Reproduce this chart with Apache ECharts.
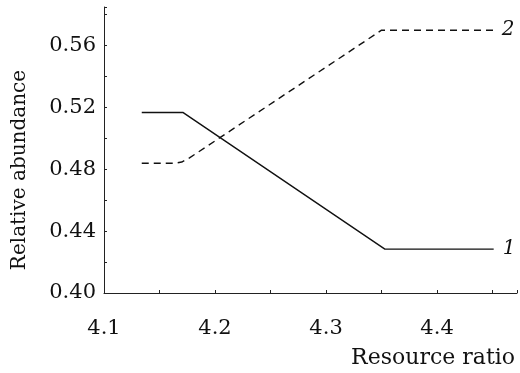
<!DOCTYPE html>
<html><head><meta charset="utf-8">
<script src="https://cdn.jsdelivr.net/npm/echarts@6/dist/echarts.min.js"></script>
<style>html,body{margin:0;padding:0;background:#fff}#c{width:520px;height:373px}</style>
</head><body><div id="c"></div>
<script>
var curve1X = [4.134, 4.171, 4.353, 4.451];
var curve1Y = [0.5168, 0.5168, 0.4284, 0.4284];
var curve2X = [4.134, 4.163, 4.170, 4.177, 4.350, 4.452];
var curve2Y = [0.4839, 0.4839, 0.4847, 0.4874, 0.5700, 0.5700];
var curveNames = ['1', '2'];
var yTickLabels = [0.40, 0.44, 0.48, 0.52, 0.56];
var xTickLabels = [4.1, 4.2, 4.3, 4.4];

function pairs(xs, ys){ return xs.map(function(x,i){return [x, ys[i]];}); }
function inList(v, list){ return list.some(function(t){return Math.abs(t-v)<1e-6;}); }

var font = 'DejaVu Serif';
var chart = echarts.init(document.getElementById('c'));
chart.setOption({
  animation:false,
  textStyle:{fontFamily:font},
  grid:{left:104, right:3, top:7, bottom:80, containLabel:false},
  xAxis:{type:'value', min:4.1, max:4.472, interval:0.05,
    name:'Resource ratio', nameLocation:'end',
    nameTextStyle:{fontFamily:font, fontSize:22, color:'#111', align:'right', verticalAlign:'top', padding:[54,0,0,0]},
    nameGap:-2,
    axisLine:{lineStyle:{color:'#222', width:1}},
    axisTick:{show:true, inside:true, length:3, lineStyle:{color:'#222'}},
    splitLine:{show:false},
    axisLabel:{fontFamily:font, fontSize:21, color:'#111', margin:25,
      formatter:function(v){ return inList(v, xTickLabels) ? v.toFixed(1) : ''; }}
  },
  yAxis:{type:'value', min:0.40, max:0.585, interval:0.02,
    name:'Relative abundance', nameLocation:'middle', nameGap:74, nameRotate:90,
    nameTextStyle:{fontFamily:font, fontSize:20, color:'#111', padding:[0,40,0,0]},
    axisLine:{show:true, lineStyle:{color:'#222', width:1}},
    axisTick:{show:true, inside:true, length:3, lineStyle:{color:'#222'}},
    splitLine:{show:false},
    axisLabel:{fontFamily:font, fontSize:21, color:'#111', margin:8,
      formatter:function(v){ return inList(v, yTickLabels) ? v.toFixed(2) : ''; }}
  },
  series:[
    {type:'line', name:curveNames[0], data:pairs(curve1X, curve1Y), symbol:'none',
      lineStyle:{color:'#111', width:1.4, type:'solid'},
      endLabel:{show:true, formatter:curveNames[0], fontFamily:font, fontStyle:'italic', fontSize:20, color:'#111', distance:9}},
    {type:'line', name:curveNames[1], data:pairs(curve2X, curve2Y), symbol:'none',
      lineStyle:{color:'#111', width:1.4, type:[7,5]},
      endLabel:{show:true, formatter:curveNames[1], fontFamily:font, fontStyle:'italic', fontSize:20, color:'#111', distance:7}}
  ]
});
</script></body></html>
